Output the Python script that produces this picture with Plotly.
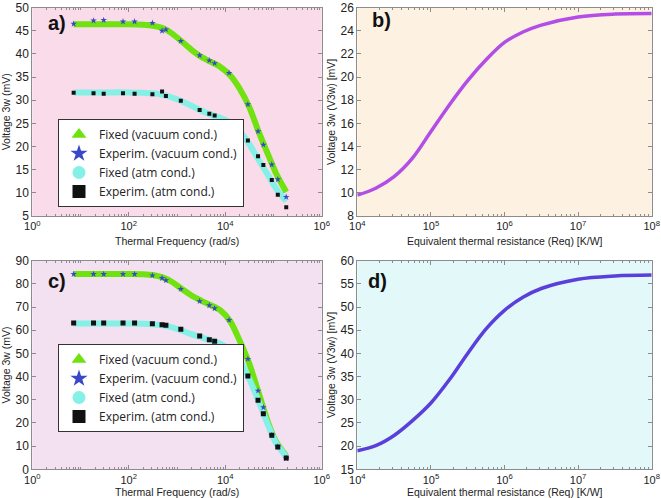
import plotly.graph_objects as go

# ---------------- data ----------------
# experimental frequencies (rad/s), shared by panels a and c
freq_exp = [7.2, 18.6, 30.2, 76, 132, 309, 490, 589, 1200, 2950, 4680, 6030,
            12000, 29500, 47900, 61700, 92300, 123000, 184000]
# fit curve sample frequencies (rad/s)
freq_fit = [7.2, 31.6, 100, 200, 316, 501, 794, 1259, 1995, 3162, 5012, 7943,
            12589, 19953, 31623, 50119, 79433, 112202, 184000]

# panel a
a_exp_vac = [46.5, 47.2, 47.3, 47.0, 47.0, 46.7, 45.0, 45.3, 42.8, 39.7, 38.6, 38.0,
             35.9, 29.1, 23.3, 20.4, 16.1, 12.9, 9.1]
a_exp_atm = [31.6, 31.5, 31.4, 31.5, 31.4, 31.3, 31.9, 30.9, 29.9, 27.9, 27.1, 26.7,
             25.0, 21.3, 17.9, 16.0, 12.8, 9.6, 6.9]
a_fit_vac = [46.4, 46.4, 46.4, 46.3, 46.1, 45.6, 44.4, 42.7, 40.9, 39.4, 38.3, 37.2,
             35.4, 32.5, 28.5, 23.0, 18.0, 14.3, 10.2]
a_fit_atm = [31.7, 31.7, 31.7, 31.6, 31.5, 31.2, 30.6, 29.8, 28.8, 27.8, 26.9, 26.2,
             25.2, 23.3, 20.5, 17.0, 13.6, 11.0, 8.2]

# panel c
c_exp_vac = [84.2, 84.2, 84.2, 84.2, 84.2, 83.6, 82.5, 81.5, 77.8, 72.5, 70.7, 69.4,
             64.4, 47.6, 33.9, 26.7, 14.7, 9.8, 4.7]
c_exp_atm = [63.1, 63.1, 63.1, 63.1, 63.1, 62.8, 62.4, 62.1, 60.4, 57.5, 55.9, 55.2,
             52.0, 40.3, 29.8, 24.0, 14.7, 9.6, 4.9]
c_fit_vac = [84.3, 84.3, 84.3, 84.2, 83.8, 82.8, 80.8, 77.8, 75.0, 72.8, 70.8, 68.6,
             64.0, 55.5, 45.5, 32.5, 19.5, 12.0, 5.8]
c_fit_atm = [62.9, 62.9, 62.9, 62.8, 62.6, 62.1, 61.2, 59.8, 58.3, 57.0, 55.7, 54.2,
             51.5, 47.0, 39.0, 29.0, 18.5, 11.5, 5.5]

# panels b and d
req = [1e4, 1.78e4, 3.16e4, 5.62e4, 1e5, 1.78e5, 3.16e5, 5.62e5, 1e6, 1.78e6,
       3.16e6, 1e7, 3.16e7, 1e8]
b_volt = [9.8, 10.4, 11.4, 13.0, 15.3, 17.6, 19.7, 21.5, 23.0, 23.9, 24.5, 25.2, 25.45, 25.5]
d_volt = [19.0, 20.1, 22.3, 25.5, 29.3, 34.3, 40.0, 45.3, 49.3, 52.1, 54.0, 56.0, 56.7, 56.9]

freq_tickvals = [1, 100, 1e4, 1e6]
freq_ticktext = ["10<sup>0</sup>", "10<sup>2</sup>", "10<sup>4</sup>", "10<sup>6</sup>"]
req_tickvals = [1e4, 1e5, 1e6, 1e7, 1e8]
req_ticktext = ["10<sup>4</sup>", "10<sup>5</sup>", "10<sup>6</sup>", "10<sup>7</sup>", "10<sup>8</sup>"]

legend_names = ["Fixed (vacuum cond.)", "Experim. (vacuum cond.)",
                "Fixed (atm cond.)", "Experim. (atm cond.)"]
panel_labels = ["a)", "b)", "c)", "d)"]
x_titles = ["Thermal Frequency (rad/s)", "Equivalent thermal resistance (Req) [K/W]"]
y_titles = ["Voltage 3w (mV)", "Voltage 3w (V3w) [mV]"]

# ---------------- styles ----------------
GREEN = "#6fe210"
CYAN = "#84f0e6"
BLUE = "#3a48c8"
BLACK = "#111111"
PURPLE_B = "#b24ee6"
PURPLE_D = "#5a3fdc"
AXCOL = "#8c8c8c"
TICKFONT = dict(family="Liberation Sans, Arial, sans-serif", size=12, color="#222")
XTICKFONT = dict(family="Liberation Sans, Arial, sans-serif", size=11, color="#222")
TITLEFONT = dict(family="Liberation Sans, Arial, sans-serif", size=10.5, color="#222")
LABELFONT = dict(family="Liberation Sans, Arial, sans-serif", size=20, color="#111")
LEGFONT = dict(family="Open Sans, Noto Sans, sans-serif", size=12, color="#222")

W, H = 661, 498
def px(x0, x1):
    return [x0 / W, x1 / W]
def py(top, bottom):
    return [1 - bottom / H, 1 - top / H]

fig = go.Figure()

def fit_line(x, y, color, xa, ya):
    fig.add_trace(go.Scatter(x=x, y=y, mode="lines",
                             line=dict(color=color, width=6, shape="spline", smoothing=0.8),
                             xaxis=xa, yaxis=ya, showlegend=False, hoverinfo="skip"))

def exp_pts(x, y, symbol, color, size, xa, ya):
    fig.add_trace(go.Scatter(x=x, y=y, mode="markers", marker=dict(symbol=symbol, color=color, size=size),
                             xaxis=xa, yaxis=ya, showlegend=False))

def legend_entries(xa, ya, leg):
    specs = [("triangle-up", GREEN), ("star", BLUE), ("circle", CYAN), ("square", BLACK)]
    for name, (sym, col) in zip(legend_names, specs):
        fig.add_trace(go.Scatter(x=[None], y=[None], mode="markers", name=name,
                                 marker=dict(symbol=sym, color=col, size=13),
                                 xaxis=xa, yaxis=ya, legend=leg, showlegend=True))

# panel a
fit_line(freq_fit, a_fit_vac, GREEN, "x", "y")
fit_line(freq_fit, a_fit_atm, CYAN, "x", "y")
exp_pts(freq_exp, a_exp_vac, "star", BLUE, 5, "x", "y")
exp_pts(freq_exp, a_exp_atm, "square", BLACK, 4, "x", "y")
legend_entries("x", "y", "legend")

# panel b
fig.add_trace(go.Scatter(x=req, y=b_volt, mode="lines", line=dict(color=PURPLE_B, width=3.5, shape="spline"),
                         xaxis="x2", yaxis="y2", showlegend=False))

# panel c
fit_line(freq_fit, c_fit_vac, GREEN, "x3", "y3")
fit_line(freq_fit, c_fit_atm, CYAN, "x3", "y3")
exp_pts(freq_exp, c_exp_vac, "star", BLUE, 5, "x3", "y3")
exp_pts(freq_exp, c_exp_atm, "square", BLACK, 5, "x3", "y3")
legend_entries("x3", "y3", "legend2")

# panel d
fig.add_trace(go.Scatter(x=req, y=d_volt, mode="lines", line=dict(color=PURPLE_D, width=3.5, shape="spline"),
                         xaxis="x4", yaxis="y4", showlegend=False))

def xaxis_cfg(domain, anchor, rng, tv, tt):
    return dict(type="log", domain=domain, anchor=anchor, range=rng, automargin=False,
                tickmode="array", tickvals=tv, ticktext=tt, ticklabeloverflow="allow",
                ticks="inside", ticklen=4, tickcolor=AXCOL, mirror="allticks",
                showline=True, linecolor=AXCOL, linewidth=1, showgrid=False, zeroline=False,
                minor=dict(ticks="inside", ticklen=2, tickcolor=AXCOL, dtick="D1", showgrid=False),
                tickfont=XTICKFONT)

def yaxis_cfg(domain, anchor, rng, dtick, title):
    return dict(domain=domain, anchor=anchor, range=rng, dtick=dtick, tick0=0, automargin=False,
                ticklabeloverflow="allow",
                ticks="inside", ticklen=4, tickcolor=AXCOL, mirror="allticks",
                showline=True, linecolor=AXCOL, linewidth=1, showgrid=False, zeroline=False,
                tickfont=TICKFONT, title=dict(text=title, font=TITLEFONT, standoff=2))

top_dom = py(7.7, 216)
bot_dom = py(260.7, 469.3)
left_dom = px(32.3, 321.7)
right_dom = px(357.3, 651.7)

def ann(text, x, y, font):
    return dict(text=text, x=x / W, y=1 - y / H, xref="paper", yref="paper", showarrow=False,
                xanchor="center", yanchor="middle", font=font)

leg_common = dict(xanchor="left", yanchor="middle", bgcolor="white", bordercolor="#333", borderwidth=1,
                  font=LEGFONT, tracegroupgap=0, itemwidth=30)

fig.update_layout(
    width=W, height=H,
    margin=dict(l=0, r=0, t=0, b=0, pad=0, autoexpand=False),
    paper_bgcolor="white", plot_bgcolor="white",
    xaxis=xaxis_cfg(left_dom, "y", [0, 6], freq_tickvals, freq_ticktext),
    yaxis=yaxis_cfg(top_dom, "x", [5, 50], 5, y_titles[0]),
    xaxis2=xaxis_cfg(right_dom, "y2", [4, 8], req_tickvals, req_ticktext),
    yaxis2=yaxis_cfg(top_dom, "x2", [8, 26], 2, y_titles[1]),
    xaxis3=xaxis_cfg(left_dom, "y3", [0, 6], freq_tickvals, freq_ticktext),
    yaxis3=yaxis_cfg(bot_dom, "x3", [0, 90], 10, y_titles[0]),
    xaxis4=xaxis_cfg(right_dom, "y4", [4, 8], req_tickvals, req_ticktext),
    yaxis4=yaxis_cfg(bot_dom, "x4", [15, 60], 5, y_titles[1]),
    legend=dict(x=58 / W, y=1 - 163 / H, **leg_common),
    legend2=dict(x=58 / W, y=1 - 388 / H, **leg_common),
    shapes=[
        dict(type="rect", xref="x domain", yref="y domain", x0=0, x1=1, y0=0, y1=1,
             fillcolor="#f9dbea", line=dict(width=0), layer="below"),
        dict(type="rect", xref="x2 domain", yref="y2 domain", x0=0, x1=1, y0=0, y1=1,
             fillcolor="#fdf1e2", line=dict(width=0), layer="below"),
        dict(type="rect", xref="x3 domain", yref="y3 domain", x0=0, x1=1, y0=0, y1=1,
             fillcolor="#f3e0f0", line=dict(width=0), layer="below"),
        dict(type="rect", xref="x4 domain", yref="y4 domain", x0=0, x1=1, y0=0, y1=1,
             fillcolor="#e3f8f8", line=dict(width=0), layer="below"),
    ],
    annotations=[
        ann("<b>" + panel_labels[0] + "</b>", 57, 23, LABELFONT),
        ann("<b>" + panel_labels[1] + "</b>", 381, 20, LABELFONT),
        ann("<b>" + panel_labels[2] + "</b>", 57, 281, LABELFONT),
        ann("<b>" + panel_labels[3] + "</b>", 377, 281, LABELFONT),
        ann(x_titles[0], 177, 241, TITLEFONT),
        ann(x_titles[1], 505, 241, TITLEFONT),
        ann(x_titles[0], 177, 491.5, TITLEFONT),
        ann(x_titles[1], 505, 491.5, TITLEFONT),
    ],
)

fig.write_html("out.html", config={"displayModeBar": False},
               post_script="document.body.style.margin='0px';document.body.style.overflow='hidden';")
